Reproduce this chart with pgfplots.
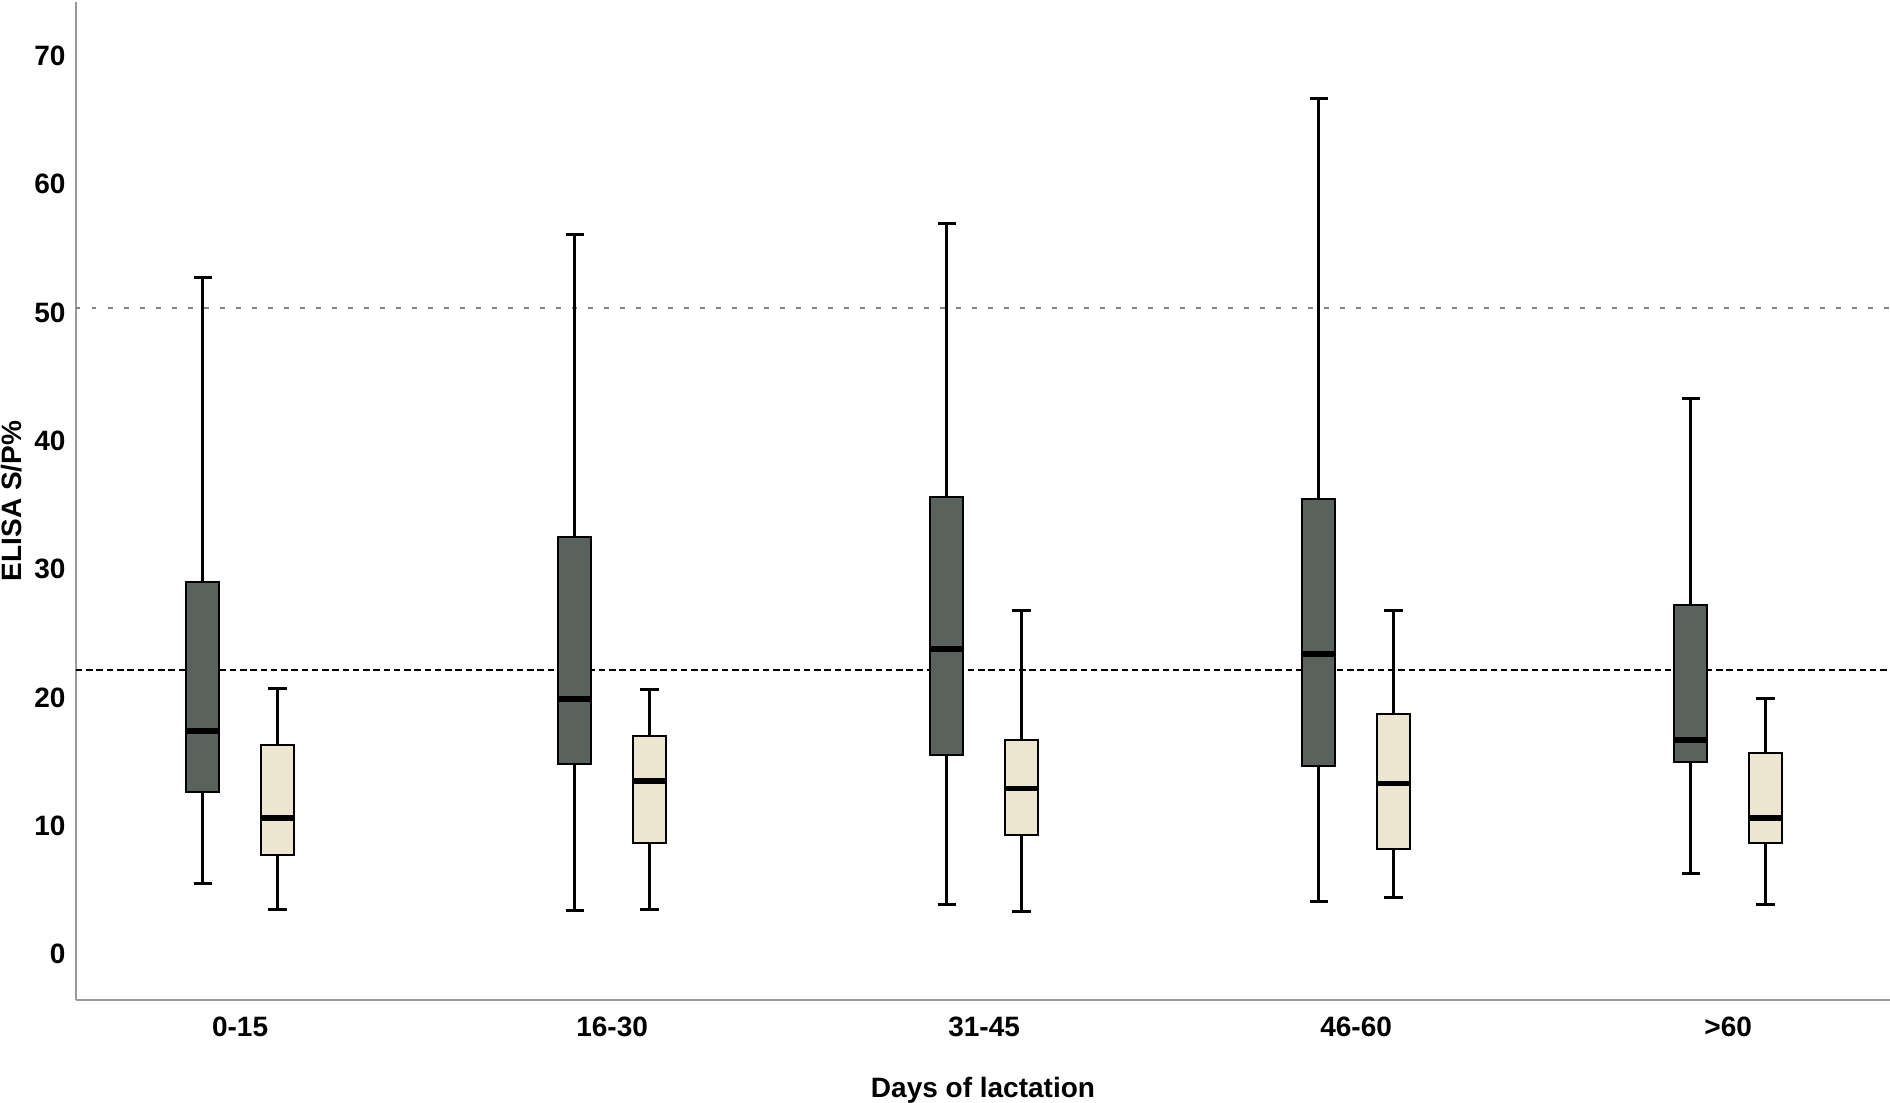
\documentclass[border=0pt]{standalone}
\usepackage{pgfplots}
\pgfplotsset{compat=1.18}
\usepgfplotslibrary{statistics}
\usepackage{fontspec}
\setmainfont{Liberation Sans}
\definecolor{darkbox}{HTML}{59625C}
\definecolor{lightbox}{HTML}{ECE6D1}
\definecolor{axisgray}{HTML}{999999}
\begin{document}
\begin{tikzpicture}
\begin{axis}[
 scale only axis, width=725.6pt, height=399.2pt,
 xmin=-0.441, xmax=4.435, ymin=-3.57, ymax=74.2,
 axis x line=bottom, axis y line=left,
 axis line style={-, axisgray, line width=1pt},
 xtick={0,1,2,3,4}, xticklabels={0-15,16-30,31-45,46-60,>60},
 ytick={0,10,20,30,40,50,60,70},
 major tick length=0pt,
 /pgf/number format/assume math mode=true,
 tick label style={font=\fontsize{11.2}{13}\selectfont\bfseries},
 xticklabel style={anchor=center, yshift=-10.7pt},
 yticklabel style={xshift=-0.7pt},
 xlabel={Days of lactation}, ylabel={ELISA S/P\%},
 label style={font=\fontsize{11.2}{13}\selectfont\bfseries},
 xlabel style={at={(axis description cs:0.5,-0.0972)}, anchor=base},
 ylabel style={at={(axis description cs:-0.0303,0.5)}, anchor=base},
 boxplot/draw direction=y,
 boxplot/box extend=0.0887,
 boxplot/whisker extend=0.05,
 boxplot/every box/.style={line width=0.8pt},
 boxplot/every whisker/.style={line width=1.2pt},
 boxplot/every median/.style={line width=2.2pt},
]
% reference lines
\addplot[axisgray!85!black, line width=1.1pt, dash pattern=on 1.8pt off 4.6pt] coordinates {(-0.441,50.35) (4.435,50.35)};
\addplot[black, line width=0.75pt, dash pattern=on 2.6pt off 1.5pt] coordinates {(-0.441,22.15) (4.435,22.15)};
% 0-15
\addplot[draw=black, fill=darkbox, boxplot prepared={draw position=-0.1, lower whisker=5.5, lower quartile=12.6, median=17.4, upper quartile=29.0, upper whisker=52.7}] coordinates {};
\addplot[draw=black, fill=lightbox, boxplot prepared={draw position=0.1, lower whisker=3.5, lower quartile=7.7, median=10.6, upper quartile=16.3, upper whisker=20.7}] coordinates {};
% 16-30
\addplot[draw=black, fill=darkbox, boxplot prepared={draw position=0.9, lower whisker=3.4, lower quartile=14.8, median=19.9, upper quartile=32.5, upper whisker=56.1}] coordinates {};
\addplot[draw=black, fill=lightbox, boxplot prepared={draw position=1.1, lower whisker=3.5, lower quartile=8.7, median=13.5, upper quartile=17.0, upper whisker=20.6}] coordinates {};
% 31-45
\addplot[draw=black, fill=darkbox, boxplot prepared={draw position=1.9, lower whisker=3.9, lower quartile=15.5, median=23.8, upper quartile=35.6, upper whisker=56.9}] coordinates {};
\addplot[draw=black, fill=lightbox, boxplot prepared={draw position=2.1, lower whisker=3.3, lower quartile=9.3, median=12.9, upper quartile=16.7, upper whisker=26.8}] coordinates {};
% 46-60
\addplot[draw=black, fill=darkbox, boxplot prepared={draw position=2.9, lower whisker=4.1, lower quartile=14.7, median=23.4, upper quartile=35.5, upper whisker=66.7}] coordinates {};
\addplot[draw=black, fill=lightbox, boxplot prepared={draw position=3.1, lower whisker=4.4, lower quartile=8.2, median=13.3, upper quartile=18.7, upper whisker=26.8}] coordinates {};
% >60
\addplot[draw=black, fill=darkbox, boxplot prepared={draw position=3.9, lower whisker=6.3, lower quartile=15.0, median=16.7, upper quartile=27.2, upper whisker=43.3}] coordinates {};
\addplot[draw=black, fill=lightbox, boxplot prepared={draw position=4.1, lower whisker=3.9, lower quartile=8.7, median=10.6, upper quartile=15.7, upper whisker=19.9}] coordinates {};
\end{axis}
\pgfresetboundingbox
\path[use as bounding box] ([xshift=-30.4pt,yshift=-40.8pt]current axis.south west) rectangle ([yshift=0.8pt]current axis.north east);
\end{tikzpicture}
\end{document}
